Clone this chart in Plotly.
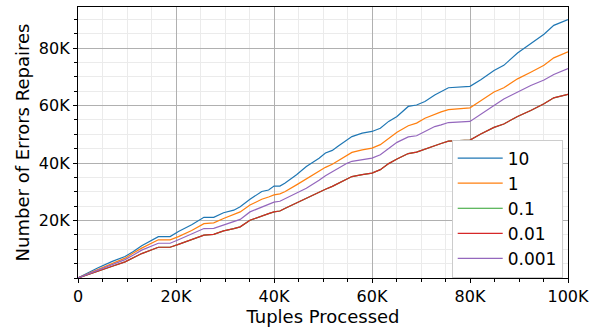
import plotly.graph_objects as go

# Tuples processed (thousands)
x_k = [0, 4, 7, 9.6, 11.3, 13, 16.4, 18.8, 20.5, 23.2, 25.7, 27.7, 29.7, 31.8, 33.1, 35.1,
       37.5, 38.9, 40, 41.2, 42.2, 44.6, 46.6, 49.2, 50.5, 51.9, 53.2, 54.9, 55.9, 58, 60,
       61.7, 63.4, 65.1, 67.4, 69.1, 70.8, 72.8, 74.1, 75.6, 80, 82.2, 84.9, 86.9, 89.7,
       92.4, 95.1, 97.1, 100]

# Number of errors repaired (thousands)
s_10 = [0, 3.5, 5.8, 7.5, 9.2, 11.2, 14.4, 14.4, 16.2, 18.5, 21.1, 21.1, 22.7, 23.6, 24.8, 27.4,
        30.1, 30.6, 32.0, 32.0, 33.0, 35.9, 38.8, 41.7, 43.5, 44.4, 46.0, 48.1, 49.2, 50.4, 51.0,
        52.1, 54.5, 56.2, 59.7, 60.2, 61.4, 63.7, 65.0, 66.2, 66.7, 69.0, 72.2, 74.0, 78.3,
        81.5, 84.8, 87.9, 89.9]
s_1 = [0, 2.9, 5.2, 6.9, 8.7, 10.4, 13.3, 13.3, 14.4, 16.5, 18.9, 19.2, 20.7, 22.0, 23.0, 25.4,
       27.4, 28.2, 28.9, 29.3, 30.0, 32.4, 34.5, 37.1, 38.5, 39.6, 40.9, 42.6, 43.7, 44.6, 45.2,
       46.4, 48.7, 50.7, 53.0, 53.9, 55.6, 57.1, 57.8, 58.6, 59.2, 61.7, 64.7, 66.2, 69.3,
       71.6, 74.0, 76.6, 78.7]
s_01 = [0, 2.2, 4.1, 5.6, 7.0, 8.5, 10.7, 10.7, 11.7, 13.3, 14.9, 15.2, 16.4, 17.2, 17.8, 20.1,
        21.7, 22.4, 23.0, 23.3, 24.2, 26.2, 27.8, 29.8, 30.9, 31.9, 33.1, 34.5, 35.3, 36.0, 36.5,
        37.7, 39.8, 41.4, 43.3, 43.8, 44.9, 46.1, 46.8, 47.6, 48.0, 50.1, 52.4, 53.6, 56.2,
        58.3, 60.6, 62.7, 63.9]
s_001 = [0, 2.2, 4.1, 5.6, 7.0, 8.5, 10.7, 10.7, 11.7, 13.3, 14.9, 15.2, 16.4, 17.2, 17.8, 20.1,
         21.7, 22.4, 23.0, 23.3, 24.2, 26.2, 27.8, 29.8, 30.9, 31.9, 33.1, 34.5, 35.3, 36.0, 36.5,
         37.7, 39.8, 41.4, 43.3, 43.8, 44.9, 46.1, 46.8, 47.6, 48.0, 50.1, 52.4, 53.6, 56.2,
         58.3, 60.6, 62.7, 63.9]
s_0001 = [0, 2.6, 4.8, 6.4, 8.0, 9.7, 12.1, 12.1, 13.3, 15.2, 17.2, 17.3, 18.4, 19.5, 20.4, 23.0,
          24.8, 25.6, 26.4, 26.7, 27.5, 29.5, 31.2, 34.0, 35.6, 37.0, 38.3, 39.9, 40.6, 41.2, 41.7,
          42.9, 45.2, 47.2, 49.1, 49.5, 51.0, 52.7, 53.3, 54.1, 54.5, 57.1, 60.0, 62.3, 64.7,
          67.0, 68.9, 70.8, 72.9]

names = ["10", "1", "0.1", "0.01", "0.001"]
series = [s_10, s_1, s_01, s_001, s_0001]
colors = ["#1f77b4", "#ff7f0e", "#2ca02c", "#d62728", "#9467bd"]

x_ticks = [0, 20000, 40000, 60000, 80000, 100000]
x_labels = ["0", "20K", "40K", "60K", "80K", "100K"]
y_ticks = [20000, 40000, 60000, 80000]
y_labels = ["20K", "40K", "60K", "80K"]

xs = [v * 1000 for v in x_k]
fig = go.Figure()
for n, s, c in zip(names, series, colors):
    fig.add_trace(go.Scatter(x=xs, y=[v * 1000 for v in s], mode="lines", name=n,
                             line=dict(color=c, width=1.2)))

tick_font = dict(family="DejaVu Sans", size=16, color="black")
title_font = dict(family="DejaVu Sans", size=18, color="black")
axis_common = dict(
    showline=True, linecolor="black", linewidth=1.3, mirror=True,
    showgrid=True, gridcolor="#b0b0b0", gridwidth=1,
    ticks="outside", ticklen=4, tickwidth=1.2, tickcolor="black",
    zeroline=False, tickfont=tick_font,
    minor=dict(dtick=5000, showgrid=True, gridcolor="#ebebeb", gridwidth=1,
               ticks="outside", ticklen=2.5, tickwidth=1, tickcolor="black"),
)
fig.update_xaxes(range=[0, 100000], tickvals=x_ticks, ticktext=x_labels,
                 title=dict(text="Tuples Processed", font=title_font, standoff=2), **axis_common)
fig.update_yaxes(range=[0, 94300], tickvals=y_ticks, ticktext=y_labels,
                 title=dict(text="Number of Errors Repaires", font=title_font, standoff=4), **axis_common)

# legend shadow
fig.add_shape(type="rect", xref="paper", yref="paper",
              x0=(457 - 78) / 493, x1=(566 - 78) / 493,
              y0=(278 - 273) / 272, y1=(278 - 142) / 272,
              fillcolor="#b0b0b0", line=dict(width=0), layer="above")

fig.update_layout(
    width=595, height=332,
    margin=dict(l=78, r=24, t=6, b=54),
    paper_bgcolor="white", plot_bgcolor="white",
    legend=dict(x=(454 - 78) / 493, y=(278 - 139) / 272, xanchor="left", yanchor="top",
                bgcolor="white", bordercolor="#cccccc", borderwidth=1,
                itemwidth=45,
                font=dict(family="DejaVu Sans", size=17, color="black")),
)
fig.write_html("out.html")
